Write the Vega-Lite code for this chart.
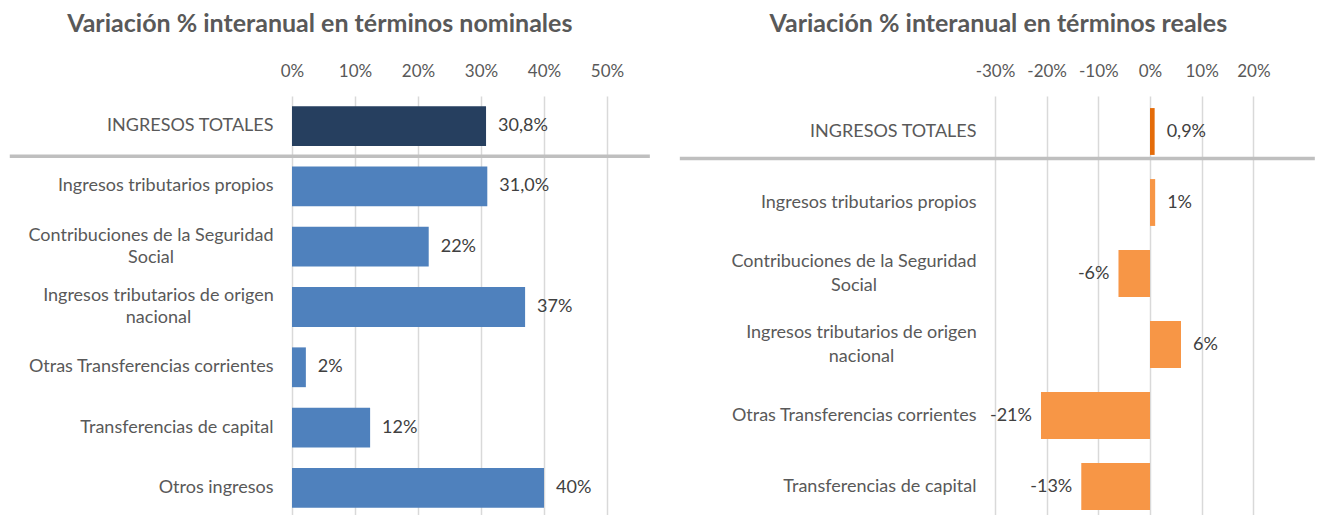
{
  "$schema": "https://vega.github.io/schema/vega-lite/v6.json",
  "padding": {"left": 8, "top": 12, "right": 0, "bottom": 0},
  "autosize": {"type": "pad"},
  "spacing": 26,
  "resolve": {"scale": {"color": "independent", "x": "independent", "y": "independent"}},
  "config": {
    "view": {"stroke": null},
    "font": "Lato",
    "title": {"font": "Lato", "fontSize": 25, "fontWeight": "bold", "color": "#595959", "anchor": "middle", "frame": "bounds", "offset": 25},
    "axis": {"labelFont": "Lato", "labelFontSize": 18, "labelColor": "#595959", "domain": false, "ticks": false, "title": null, "labelLimit": 0, "labelOverlap": false},
    "axisX": {"labelFontSize": 17, "labelFlush": false}
  },
  "datasets": {
    "nominal": [
      {"concepto": "INGRESOS TOTALES", "valor": 30.8, "etiqueta": "30,8%", "tipo": "total"},
      {"concepto": "Ingresos tributarios propios", "valor": 31.0, "etiqueta": "31,0%", "tipo": "item"},
      {"concepto": "Contribuciones de la Seguridad Social", "valor": 21.7, "etiqueta": "22%", "tipo": "item"},
      {"concepto": "Ingresos tributarios de origen nacional", "valor": 37.0, "etiqueta": "37%", "tipo": "item"},
      {"concepto": "Otras Transferencias corrientes", "valor": 2.2, "etiqueta": "2%", "tipo": "item"},
      {"concepto": "Transferencias de capital", "valor": 12.4, "etiqueta": "12%", "tipo": "item"},
      {"concepto": "Otros ingresos", "valor": 40.0, "etiqueta": "40%", "tipo": "item"}
    ],
    "real": [
      {"concepto": "INGRESOS TOTALES", "valor": 0.9, "etiqueta": "0,9%", "tipo": "total"},
      {"concepto": "Ingresos tributarios propios", "valor": 1.0, "etiqueta": "1%", "tipo": "item"},
      {"concepto": "Contribuciones de la Seguridad Social", "valor": -6.1, "etiqueta": "-6%", "tipo": "item"},
      {"concepto": "Ingresos tributarios de origen nacional", "valor": 6.0, "etiqueta": "6%", "tipo": "item"},
      {"concepto": "Otras Transferencias corrientes", "valor": -21.1, "etiqueta": "-21%", "tipo": "item"},
      {"concepto": "Transferencias de capital", "valor": -13.3, "etiqueta": "-13%", "tipo": "item"}
    ]
  },
  "hconcat": [
    {
      "width": 315,
      "height": 422,
      "title": {"text": "Variación % interanual en términos nominales", "dx": -10},
      "data": {"name": "nominal"},
      "encoding": {
        "y": {
          "field": "concepto", "type": "nominal", "sort": null,
          "scale": {"paddingInner": 0, "paddingOuter": 0},
          "axis": {
            "labelLineHeight": 22,
            "labelPadding": {"condition": [{"test": "datum.value == 'Contribuciones de la Seguridad Social'", "value": 141.5}, {"test": "datum.value == 'Ingresos tributarios de origen nacional'", "value": 134}], "value": 19},
            "labelAlign": {"condition": {"test": "indexof(datum.value, 'Social') >= 0 || indexof(datum.value, 'nacional') >= 0", "value": "center"}, "value": "right"},
            "labelOffset": {"condition": {"test": "indexof(datum.value, 'Social') >= 0 || indexof(datum.value, 'nacional') >= 0", "value": -11}, "value": 0},
            "labelExpr": "datum.label == 'Contribuciones de la Seguridad Social' ? ['Contribuciones de la Seguridad', 'Social'] : datum.label == 'Ingresos tributarios de origen nacional' ? ['Ingresos tributarios de origen', 'nacional'] : datum.label == 'Otras Transferencias corrientes' ? 'Otras Transferencias corrientes\u00a0' : datum.label"
          }
        }
      },
      "layer": [
        {
          "mark": {"type": "bar", "height": {"band": 0.66}},
          "encoding": {
            "x": {
              "field": "valor", "type": "quantitative",
              "scale": {"domain": [0, 50], "nice": false, "zero": false},
              "axis": {"orient": "top", "values": [0, 10, 20, 30, 40, 50], "labelExpr": "datum.value + '%'", "grid": true, "gridColor": "#D9D9D9", "gridWidth": 1.5, "labelPadding": 16}
            },
            "color": {"field": "tipo", "type": "nominal", "scale": {"domain": ["total", "item"], "range": ["#263F5F", "#4F81BD"]}, "legend": null}
          }
        },
        {
          "mark": {"type": "text", "align": "left", "baseline": "middle", "dx": 12, "fontSize": 18, "color": "#404040"},
          "encoding": {
            "x": {"field": "valor", "type": "quantitative"},
            "text": {"field": "etiqueta"}
          }
        },
        {
          "transform": [{"filter": "datum.tipo == 'total'"}],
          "mark": {"type": "rule", "color": "#BFBFBF", "strokeWidth": 3.5},
          "encoding": {
            "y": {"datum": "INGRESOS TOTALES", "bandPosition": 1},
            "x": {"datum": -44.8},
            "x2": {"datum": 56.8}
          }
        }
      ]
    },
    {
      "width": 310,
      "height": 426,
      "title": {"text": "Variación % interanual en términos reales", "dx": 1},
      "data": {"name": "real"},
      "encoding": {
        "y": {
          "field": "concepto", "type": "nominal", "sort": null,
          "scale": {"paddingInner": 0, "paddingOuter": 0},
          "axis": {
            "labelLineHeight": 24,
            "labelPadding": {"condition": [{"test": "datum.value == 'Contribuciones de la Seguridad Social'", "value": 141.5}, {"test": "datum.value == 'Ingresos tributarios de origen nacional'", "value": 134}], "value": 19},
            "labelAlign": {"condition": {"test": "indexof(datum.value, 'Social') >= 0 || indexof(datum.value, 'nacional') >= 0", "value": "center"}, "value": "right"},
            "labelOffset": {"condition": {"test": "indexof(datum.value, 'Social') >= 0 || indexof(datum.value, 'nacional') >= 0", "value": -12}, "value": 0},
            "labelExpr": "datum.label == 'Contribuciones de la Seguridad Social' ? ['Contribuciones de la Seguridad', 'Social'] : datum.label == 'Ingresos tributarios de origen nacional' ? ['Ingresos tributarios de origen', 'nacional'] : datum.label == 'Otras Transferencias corrientes' ? 'Otras Transferencias corrientes\u00a0' : datum.label"
          }
        }
      },
      "layer": [
        {
          "mark": {"type": "bar", "height": {"band": 0.66}},
          "encoding": {
            "x": {
              "field": "valor", "type": "quantitative",
              "scale": {"domain": [-30, 30], "nice": false, "zero": false},
              "axis": {"orient": "top", "values": [-30, -20, -10, 0, 10, 20], "labelExpr": "datum.value + '%'", "grid": true, "gridColor": "#D9D9D9", "gridWidth": 1.5, "labelPadding": 16}
            },
            "color": {"field": "tipo", "type": "nominal", "scale": {"domain": ["total", "item"], "range": ["#E46C0A", "#F79646"]}, "legend": null}
          }
        },
        {
          "transform": [{"filter": "datum.valor >= 0"}],
          "mark": {"type": "text", "align": "left", "baseline": "middle", "dx": 12, "fontSize": 18, "color": "#404040"},
          "encoding": {
            "x": {"field": "valor", "type": "quantitative"},
            "text": {"field": "etiqueta"}
          }
        },
        {
          "transform": [{"filter": "datum.valor < 0"}],
          "mark": {"type": "text", "align": "right", "baseline": "middle", "dx": -9, "fontSize": 18, "color": "#404040"},
          "encoding": {
            "x": {"field": "valor", "type": "quantitative"},
            "text": {"field": "etiqueta"}
          }
        },
        {
          "transform": [{"filter": "datum.tipo == 'total'"}],
          "mark": {"type": "rule", "color": "#BFBFBF", "strokeWidth": 3.5},
          "encoding": {
            "y": {"datum": "INGRESOS TOTALES", "bandPosition": 0.88},
            "x": {"datum": -91},
            "x2": {"datum": 31.9}
          }
        }
      ]
    }
  ]
}
